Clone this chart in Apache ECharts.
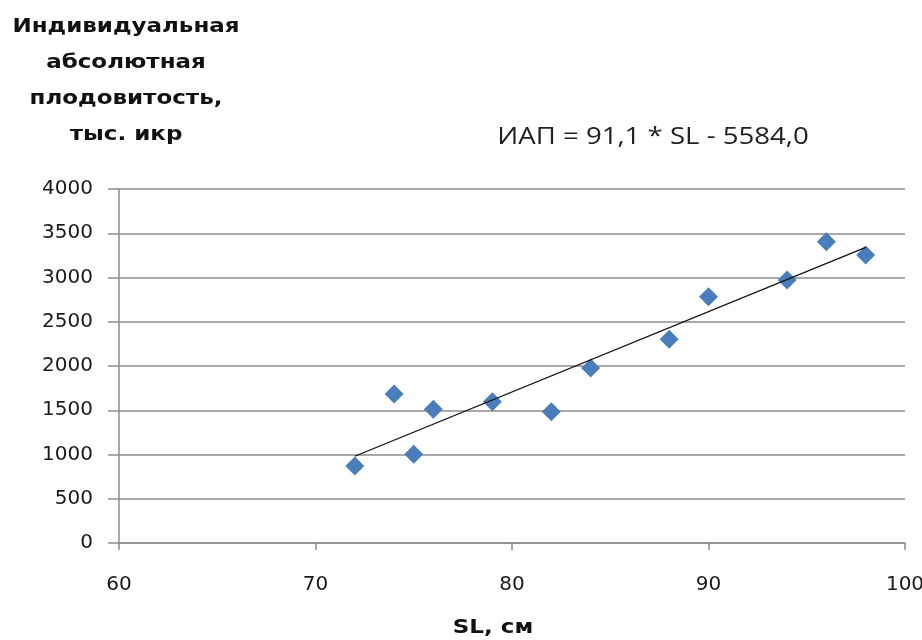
<!DOCTYPE html>
<html><head><meta charset="utf-8">
<script src="https://cdn.jsdelivr.net/npm/echarts@6/dist/echarts.min.js"></script>
<style>html,body{margin:0;padding:0;background:#fff}#c{width:922px;height:640px}</style>
</head><body><div id="c"></div>
<script>
const slValues = [72, 74, 75, 76, 79, 82, 84, 88, 90, 94, 96, 98];
const iapValues = [870, 1684, 1002, 1511, 1597, 1484, 1978, 2301, 2783, 2972, 3405, 3254];
const trendX = [72, 98];
const trendY = [980, 3340];
const yTitleLines = ['Индивидуальная', 'абсолютная', 'плодовитость,', 'тыс. икр'];
const equationText = 'ИАП = 91,1 * SL - 5584,0';
const xTitle = 'SL, см';

const chart = echarts.init(document.getElementById('c'), null, {renderer: 'canvas'});
const gray = '#8c8c8c';
const tickFont = {fontFamily: 'DejaVu Sans', fontSize: 20, color: '#1a1a1a'};
chart.setOption({
  animation: false,
  backgroundColor: '#fff',
  grid: {left: 119, right: 17, top: 189, bottom: 97, containLabel: false, outerBoundsMode: 'none'},
  xAxis: {
    type: 'value', min: 60, max: 100, interval: 10,
    axisLine: {show: true, onZero: true, lineStyle: {color: gray, width: 1.5}},
    axisTick: {show: true, length: 7, inside: false, lineStyle: {color: gray, width: 1.5}},
    axisLabel: Object.assign({margin: 30, formatter: v => '{t|' + v + '}',
      rich: {t: {fontFamily: 'DejaVu Sans', fontSize: 20, color: '#1a1a1a', padding: [2, 0, 16, 0]}}}, tickFont),
    splitLine: {show: false}
  },
  yAxis: {
    type: 'value', min: 0, max: 4000, interval: 500,
    axisLine: {show: true, lineStyle: {color: gray, width: 1.5}},
    axisTick: {show: true, length: 11, lineStyle: {color: gray, width: 1.5}},
    axisLabel: Object.assign({margin: 26, formatter: v => String(v)}, tickFont),
    splitLine: {show: true, lineStyle: {color: gray, width: 1.5}}
  },
  series: [
    {
      type: 'scatter', name: 'ИАП', z: 2,
      symbol: 'diamond', symbolSize: 19,
      itemStyle: {color: '#4a7ebb', opacity: 1},
      data: slValues.map((v, i) => [v, iapValues[i]])
    },
    {
      type: 'line', name: 'trend', z: 3, symbol: 'none',
      lineStyle: {color: '#111', width: 1.3},
      data: trendX.map((v, i) => [v, trendY[i]])
    }
  ],
  graphic: [
    {
      type: 'text', x: 126, y: 9, scaleX: 1.15,
      style: {
        text: yTitleLines.join('\n'),
        fontFamily: 'DejaVu Sans', fontWeight: 'bold', fontSize: 20, lineHeight: 36,
        fill: '#111', align: 'center', verticalAlign: 'top'
      }
    },
    {
      type: 'text', x: 653, y: 137, scaleX: 1.2,
      style: {
        text: equationText,
        fontFamily: 'Open Sans', fontSize: 23, fill: '#222',
        align: 'center', verticalAlign: 'middle'
      }
    },
    {
      type: 'text', x: 493, y: 628, scaleX: 1.15,
      style: {
        text: xTitle,
        fontFamily: 'DejaVu Sans', fontWeight: 'bold', fontSize: 20, fill: '#111',
        align: 'center', verticalAlign: 'middle'
      }
    }
  ]
});
</script></body></html>
